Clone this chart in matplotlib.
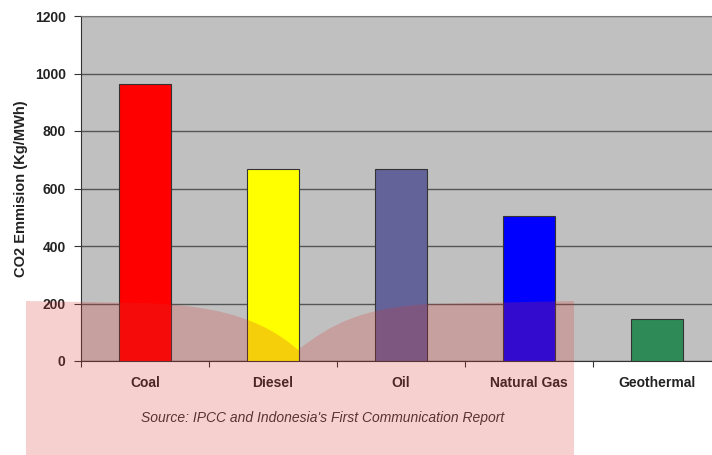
import numpy as np
import matplotlib
matplotlib.use("Agg")
import matplotlib.pyplot as plt
from matplotlib.patches import PathPatch
from matplotlib.path import Path

plt.rcParams['font.family'] = ['Liberation Sans', 'DejaVu Sans']

# Данные
categories = ['Coal', 'Diesel', 'Oil', 'Natural Gas', 'Geothermal']
emission = [963, 668, 668, 504, 146]
colors = ['#FF0000', '#FFFF00', '#636399', '#0000FF', '#2E8B57']
yticks = [0, 200, 400, 600, 800, 1000, 1200]

W, H = 712, 455
fig = plt.figure(figsize=(W / 100, H / 100), dpi=100)
ax = fig.add_axes([81 / W, 94 / H, 640 / W, 345 / H])
ax.set_facecolor('#C0C0C0')

x = np.arange(len(categories))
ax.bar(x, emission, width=0.41, color=colors, edgecolor='#333333', linewidth=0.8, zorder=3)

ax.set_xlim(-0.5, len(categories) - 0.5)
ax.set_ylim(0, 1200)
ax.set_yticks(yticks)
ax.set_yticklabels([str(t) for t in yticks], fontsize=10, fontweight='bold', color='#222222')
ax.yaxis.grid(True, color='#555555', linewidth=1.0, zorder=0)
ax.set_axisbelow(True)

# подписи категорий и деления между ними
ax.set_xticks(np.arange(-0.5, len(categories) + 0.5, 1))
ax.set_xticklabels([])
ax.set_xticks(x, minor=True)
ax.set_xticklabels(categories, minor=True, fontsize=10, fontweight='bold', color='#222222')
ax.tick_params(axis='x', which='minor', length=0, pad=11)
ax.tick_params(axis='x', which='major', length=4, color='#333333')
ax.tick_params(axis='y', length=5, pad=6, color='#333333')

for side in ['top', 'right']:
    ax.spines[side].set_color('#777777')
ax.spines['left'].set_color('#333333')
ax.spines['bottom'].set_color('#333333')

ax.set_ylabel('CO2 Emmision (Kg/MWh)', fontsize=10.5, fontweight='bold', color='#222222', labelpad=5)

fig.text(323 / W, 1 - 418 / H, "Source: IPCC and Indonesia's First Communication Report",
         fontsize=10, style='italic', color='#333333', ha='center', va='center')


# розовая полупрозрачная подложка (артефакт на картинке)
def fp(px, py):
    return (px / W, 1 - py / H)


verts = [fp(26, 301), fp(140, 303),
         fp(215, 305), fp(262, 318), fp(298, 350),
         fp(330, 325), fp(360, 308), fp(430, 304),
         fp(574, 301), fp(574, 455), fp(26, 455), fp(26, 301)]
codes = [Path.MOVETO, Path.LINETO,
         Path.CURVE4, Path.CURVE4, Path.CURVE4,
         Path.CURVE4, Path.CURVE4, Path.CURVE4,
         Path.LINETO, Path.LINETO, Path.LINETO, Path.CLOSEPOLY]
fig.patches.append(PathPatch(Path(verts, codes), transform=fig.transFigure,
                             facecolor=(0.86, 0.2, 0.2), alpha=0.23, edgecolor='none', zorder=10))

fig.savefig('out.png', dpi=100)
